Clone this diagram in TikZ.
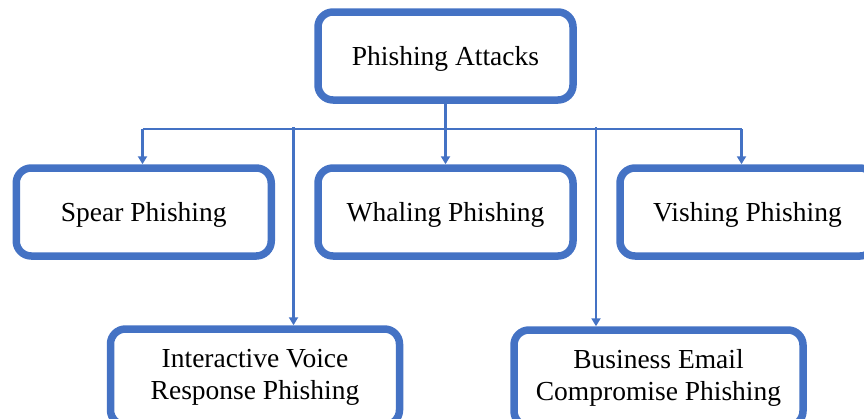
\documentclass[tikz,border=0pt]{standalone}
\usepackage{fontspec}
\setmainfont{Liberation Serif}
\usepackage{xcolor}
\usepackage{tikz}
\usetikzlibrary{arrows.meta, positioning}

\definecolor{officeblue}{HTML}{4472C4}

\begin{document}
\begin{tikzpicture}[
    x=1pt, y=-1pt,
    box/.style={rectangle, rounded corners=15pt, draw=officeblue, line width=7.5pt, fill=white, minimum width=255pt, minimum height=88pt, inner sep=0pt, align=center, font=\fontsize{27.5}{32}\selectfont, text height=25pt, text depth=6pt},
    widebox/.style={rectangle, rounded corners=15pt, draw=officeblue, line width=7.5pt, fill=white, minimum width=289pt, minimum height=96pt, inner sep=0pt, align=center, font=\fontsize{27.5}{32}\selectfont},
    line/.style={officeblue, line width=2.5pt},
    arrow/.style={line, -{Triangle[width=9pt,length=8pt]}}
]
\useasboundingbox (0,0) rectangle (864,418);

% Root
\node[box] (attacks) at (445.5,56) {Phishing Attacks};

% First row
\node[box] (spear) at (143.75,212) {Spear Phishing};
\node[box] (whaling) at (445.5,212) {Whaling Phishing};
\node[box] (vishing) at (747.5,212) {Vishing Phishing};

% Second row
\node[widebox] (ivr) at (255,377) {Interactive Voice\\Response Phishing};
\node[widebox] (bec) at (658.5,378) {Business Email\\Compromise Phishing};

% Bus
\coordinate (busL) at (142.5,129);
\coordinate (busR) at (741.5,129);
\coordinate (busA) at (293.5,127);
\coordinate (busB) at (596,127);

% Arrows
\draw[line] (attacks.south) -- (attacks.south |- busL);
\draw[line] (busL) -- (busR);
\draw[arrow] (busL) -- (busL |- spear.north);
\draw[arrow] (attacks.south |- busL) -- (whaling.north);
\draw[arrow] (busR) -- (busR |- vishing.north);
\draw[arrow] (busA) -- (busA |- ivr.north);
\draw[arrow] (busB) -- (busB |- bec.north);

\end{tikzpicture}
\end{document}
